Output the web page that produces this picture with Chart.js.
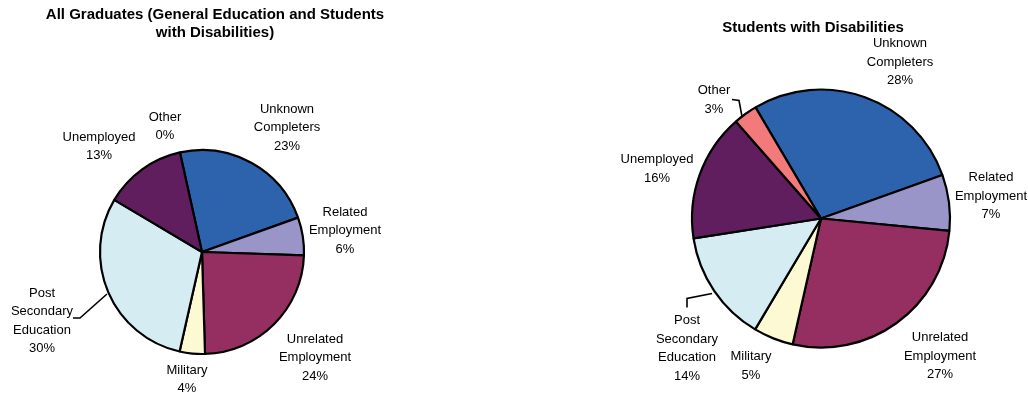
<!DOCTYPE html>
<html>
<head>
<meta charset="utf-8">
<script src="https://cdn.jsdelivr.net/npm/chart.js@4"></script>
<style>
  html, body { margin: 0; padding: 0; background: #fff; }
  #wrap { position: relative; width: 1028px; height: 394px; overflow: hidden; }
  #wrap canvas { position: absolute; top: 0; }
</style>
</head>
<body>
<div id="wrap">
  <canvas id="allChart" width="514" height="394" style="left:0"></canvas>
  <canvas id="swdChart" width="514" height="394" style="left:514px"></canvas>
</div>
<script>
// categories (same order for both pies, clockwise from the "Unknown Completers" slice)
const categories = [
    ['Unknown', 'Completers'],
    ['Related', 'Employment'],
    ['Unrelated', 'Employment'],
    ['Military'],
    ['Post', 'Secondary', 'Education'],
    ['Unemployed'],
    ['Other']
];

// percent values
const allGraduates = [23, 6, 24, 4, 30, 13, 0];
const disabilities = [28, 7, 27, 5, 14, 16, 3];

const sliceColors = [
    '#2d63ad',  // unknown completers
    '#9995c9',  // related employment
    '#952f61',  // unrelated employment
    '#fdf9d3',  // military
    '#d5edf2',  // post secondary
    '#601e5f',  // unemployed
    '#f27a7a'   // other
];

const labelFont = '13px "Liberation Sans", Arial, sans-serif';
const titleFont = 'bold 15px "Liberation Sans", Arial, sans-serif';
const lineGap = 18.5;

// draws the title, the category labels and the few leader lines
const pieLabels = {
    id: 'pieLabels',
    afterDraw(chart) {
        const o = chart.options.plugins.pieLabels;
        const ctx = chart.ctx;
        const arc0 = chart.getDatasetMeta(0).data[0];
        const cx = arc0.x, cy = arc0.y;
        const values = chart.data.datasets[0].data;
        ctx.save();
        ctx.fillStyle = '#000';
        ctx.textAlign = 'center';
        ctx.textBaseline = 'middle';

        ctx.font = titleFont;
        o.title.forEach(function(line, i) {
            ctx.fillText(line, o.titlePos[0], o.titlePos[1] + i * 18);
        });

        ctx.font = labelFont;
        chart.data.labels.forEach(function(lines, i) {
            const p = o.offsets[i];
            const all = lines.concat([values[i] + '%']);
            all.forEach(function(line, j) {
                ctx.fillText(line, cx + p[0], cy + p[1] + j * lineGap);
            });
        });

        ctx.strokeStyle = '#000';
        ctx.lineWidth = 1.6;
        o.leaders.forEach(function(pts) {
            ctx.beginPath();
            pts.forEach(function(pt, k) {
                if (k === 0) ctx.moveTo(cx + pt[0], cy + pt[1]);
                else ctx.lineTo(cx + pt[0], cy + pt[1]);
            });
            ctx.stroke();
        });
        ctx.restore();
    }
};

function makePie(id, values, opts) {
    const ctx = document.getElementById(id).getContext('2d');
    return new Chart(ctx, {
        type: 'pie',
        data: {
            labels: categories,
            datasets: [{
                data: values,
                backgroundColor: sliceColors,
                borderColor: '#000',
                borderWidth: 2.2
            }]
        },
        options: {
            responsive: false,
            animation: false,
            devicePixelRatio: 1,
            rotation: opts.rotation,
            radius: opts.radius,
            layout: { padding: opts.padding },
            events: [],
            plugins: {
                legend: { display: false },
                tooltip: { enabled: false },
                pieLabels: {
                    title: opts.title,
                    titlePos: opts.titlePos,
                    offsets: opts.offsets,
                    leaders: opts.leaders
                }
            }
        },
        plugins: [pieLabels]
    });
}

document.addEventListener('DOMContentLoaded', function() {
    // left pie: all graduates
    makePie('allChart', allGraduates, {
        rotation: -12.5,
        radius: 102,
        padding: { left: 92, right: 202, top: 142, bottom: 32 },
        title: ['All Graduates (General Education and Students', 'with Disabilities)'],
        titlePos: [215, 15],
        offsets: [
            [85, -143], [143, -40], [113, 87], [-15, 118],
            [-160, 41], [-103, -115], [-37, -135]
        ],
        leaders: [
            [[-129, 66], [-122, 66], [-95, 42]]
        ]
    });

    // right pie: students with disabilities
    makePie('swdChart', disabilities, {
        rotation: -30.5,
        radius: 129,
        padding: { left: 167, right: 67, top: 79, bottom: 36 },
        title: ['Students with Disabilities'],
        titlePos: [299, 28],
        offsets: [
            [79, -175], [170, -41], [119, 119], [-70, 138],
            [-134, 102], [-164, -59], [-107, -128]
        ],
        leaders: [
            [[-89, -119], [-82, -118], [-79, -102]],
            [[-134, 89], [-134, 80], [-109, 75]]
        ]
    });
});
</script>
</body>
</html>
